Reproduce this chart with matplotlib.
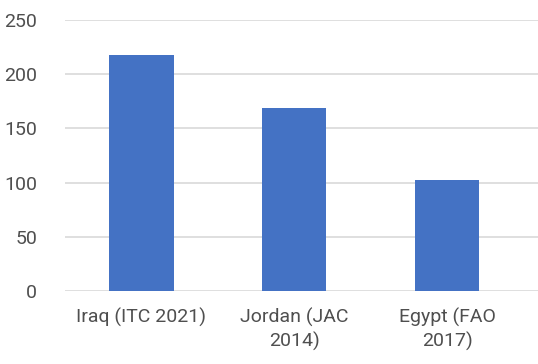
import matplotlib
matplotlib.use('Agg')
import matplotlib.pyplot as plt

categories = ['Iraq (ITC 2021)', 'Jordan (JAC\n2014)', 'Egypt (FAO\n2017)']
values = [218, 169, 102]
y_ticks = [0, 50, 100, 150, 200, 250]

plt.rcParams['font.family'] = ['Roboto', 'DejaVu Sans']

fig = plt.figure(figsize=(5.38, 3.64), dpi=100)
ax = fig.add_axes([65 / 538, 1 - 291 / 364, (538 - 65) / 538, 271 / 364])

x = list(range(len(categories)))
ax.bar(x, values, width=0.42, color='#4472C4', zorder=3)

ax.set_xlim(-0.5, 2.595)
ax.set_ylim(0, 250)
ax.set_yticks(y_ticks)
ax.set_xticks(x)
ax.set_xticklabels(categories, linespacing=1.35)

ax.yaxis.grid(True, color='#d9d9d9', linewidth=1.2, zorder=0)
for side in ['top', 'right', 'left', 'bottom']:
    ax.spines[side].set_visible(False)
ax.tick_params(axis='both', length=0, labelsize=14, colors='#4f4f4f')
ax.tick_params(axis='y', pad=20)
ax.tick_params(axis='x', pad=12)

plt.savefig('out.png', dpi=100)
